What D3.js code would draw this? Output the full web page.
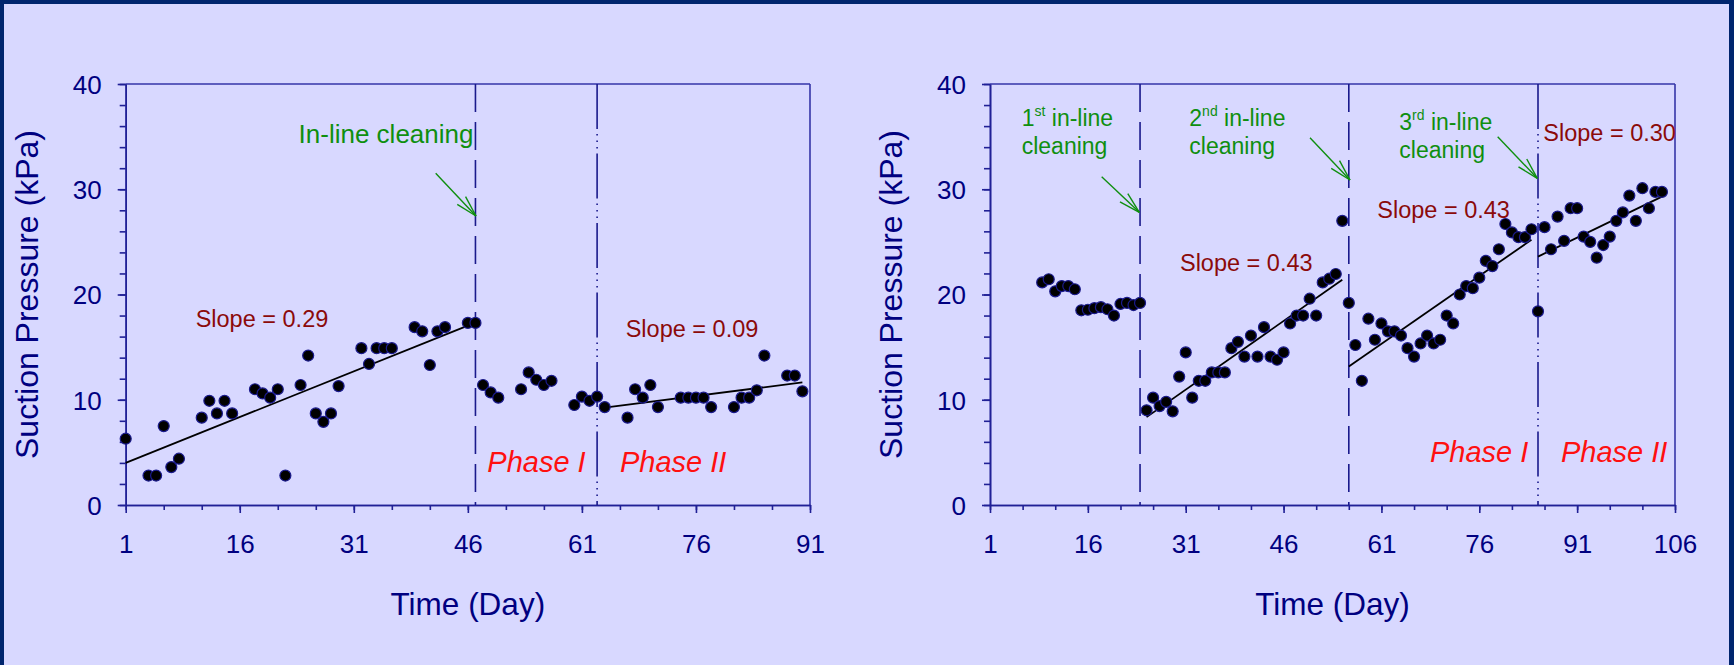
<!DOCTYPE html>
<html><head><meta charset="utf-8">
<script src="https://cdn.jsdelivr.net/npm/d3@7"></script>
<style>html,body{margin:0;padding:0;background:#D8D8FF;} svg{display:block}</style>
</head><body>
<svg id="c" width="1734" height="665"></svg>
<script>
// ---------- DATA ----------
const leftDays   = [1,4,5,6,7,8,11,12,13,14,15,18,19,20,21,22,24,25,26,27,28,29,32,33,34,35,36,39,40,41,42,43,46,47,48,49,50,53,54,55,56,57,60,61,62,63,64,67,68,69,70,71,74,75,76,77,78,81,82,83,84,85,88,89,90];
const leftValues = [6.3,2.8,2.8,7.5,3.6,4.4,8.3,9.9,8.7,9.9,8.7,11.0,10.6,10.2,11.0,2.8,11.4,14.2,8.7,7.9,8.7,11.3,14.9,13.4,14.9,14.9,14.9,16.9,16.5,13.3,16.5,16.9,17.3,17.3,11.4,10.7,10.2,11.0,12.6,11.9,11.4,11.8,9.5,10.3,9.9,10.3,9.3,8.3,11.0,10.2,11.4,9.3,10.2,10.2,10.2,10.2,9.3,9.3,10.2,10.2,10.9,14.2,12.3,12.3,10.8];

const rightDays   = d3.range(9, 105);
const rightValues = [21.15,21.45,20.3,20.8,20.8,20.5,18.5,18.55,18.7,18.8,18.6,18.0,19.1,19.2,19.0,19.2,
  9.0,10.2,9.4,9.8,8.9,12.2,14.5,10.2,11.8,11.8,12.6,12.6,12.6,14.9,15.5,14.1,16.1,14.1,16.9,14.1,13.8,14.5,17.25,18.0,18.0,19.6,18.0,21.15,21.5,21.95,27.0,
  19.2,15.2,11.8,17.7,15.7,17.25,16.5,16.5,16.1,14.9,14.1,15.35,16.1,15.35,15.7,18.0,17.25,20.0,20.8,20.6,21.6,23.2,22.7,24.3,26.7,25.9,25.45,25.45,26.2,
  18.4,26.4,24.3,27.4,25.1,28.2,28.2,25.5,25.0,23.5,24.7,25.5,27.0,27.8,29.4,27.0,30.1,28.2,29.75,29.75];

// regression segments: [startDay, startValue, endDay, endValue]
const leftFits  = [[1, 4.0, 46, 17.05], [64.5, 9.3, 90, 11.65]];
const rightFits = [[25, 8.35, 55, 21.4], [56, 13.15, 84, 25.2], [85, 23.6, 104, 29.3]];

// event lines (day)
const leftCleaning  = [47];
const leftPhase     = [63];
const rightCleaning = [24, 56];
const rightPhase    = [85];

const xTicksLeft  = [1,16,31,46,61,76,91];
const xTicksRight = [1,16,31,46,61,76,91,106];
const yTicks      = [0,10,20,30,40];

const yTitle = "Suction Pressure (kPa)";
const xTitle = "Time (Day)";

// ---------- STYLE ----------
const FONT = "'Liberation Sans', Arial, Helvetica, sans-serif";
const NAVY = "#000080";
const AXIS = "#202096";
const GREEN = "#0f8f0f";
const DARKRED = "#8b0a0a";
const RED = "#ff1010";

const svg = d3.select("#c");
svg.append("rect").attr("width",1734).attr("height",665).attr("fill","#D8D8FF");
svg.append("rect").attr("x",0).attr("y",0).attr("width",1734).attr("height",4).attr("fill","#00256E");
svg.append("rect").attr("x",0).attr("y",0).attr("width",4).attr("height",665).attr("fill","#00256E");
svg.append("rect").attr("x",1729).attr("y",0).attr("width",5).attr("height",665).attr("fill","#00256E");

function panel(cfg){
  const TOP = 84, BOT = 505;
  const x = d3.scaleLinear().domain(cfg.domain).range([cfg.left, cfg.right]);
  const y = d3.scaleLinear().domain([0,40]).range([BOT, TOP]);
  const g = svg.append("g");

  // frame top & right
  g.append("line").attr("x1",cfg.left).attr("x2",cfg.right).attr("y1",TOP).attr("y2",TOP)
    .attr("stroke","#3535a8").attr("stroke-width",1.6);
  g.append("line").attr("x1",cfg.right).attr("x2",cfg.right).attr("y1",TOP).attr("y2",BOT)
    .attr("stroke","#3535a8").attr("stroke-width",1.6);

  // minor ticks
  const minorX = d3.range(cfg.domain[0], cfg.domain[1]+1, 5);
  g.append("g").attr("transform",`translate(0,${BOT})`)
    .call(d3.axisBottom(x).tickValues(minorX).tickSize(5).tickSizeOuter(0).tickFormat(""));
  g.append("g").attr("transform",`translate(${cfg.left},0)`)
    .call(d3.axisLeft(y).tickValues(d3.range(0,41,2)).tickSize(6).tickSizeOuter(0).tickFormat(""));

  const ax = g.append("g").attr("transform",`translate(0,${BOT})`)
    .call(d3.axisBottom(x).tickValues(cfg.xTicks).tickSize(8).tickSizeOuter(0).tickFormat(d3.format("d")));
  ax.selectAll("text").attr("y",48).attr("dy",null);
  const ay = g.append("g").attr("transform",`translate(${cfg.left},0)`)
    .call(d3.axisLeft(y).tickValues(yTicks).tickSize(8).tickSizeOuter(0).tickPadding(16));
  ay.selectAll("text").attr("dy","0.36em");

  g.selectAll(".domain, .tick line").attr("stroke",AXIS).attr("stroke-width",1.6);
  g.selectAll(".tick text").attr("fill",NAVY).attr("font-size",26).attr("font-family",FONT);
  [ax, ay].forEach(a => a.attr("font-family",FONT).attr("font-size",26));

  // titles
  g.append("text").attr("transform",`translate(${cfg.left-88},${(TOP+BOT)/2}) rotate(-90)`)
    .attr("text-anchor","middle").attr("font-family",FONT).attr("font-size",32).attr("fill",NAVY).text(yTitle);
  g.append("text").attr("x",(cfg.left+cfg.right)/2).attr("y",615)
    .attr("text-anchor","middle").attr("font-family",FONT).attr("font-size",31.5).attr("fill",NAVY).text(xTitle);

  // event lines
  g.selectAll(null).data(cfg.cleaning).join("line")
    .attr("x1",d=>x(d)).attr("x2",d=>x(d)).attr("y1",TOP).attr("y2",BOT)
    .attr("stroke","#1a1a8c").attr("stroke-width",1.6).attr("stroke-dasharray","28,10");
  g.selectAll(null).data(cfg.phase).join("line")
    .attr("x1",d=>x(d)).attr("x2",d=>x(d)).attr("y1",TOP).attr("y2",BOT)
    .attr("stroke","#1a1a8c").attr("stroke-width",1.6).attr("stroke-dasharray","45,5,1.5,5,1.5,5,1.5,5");

  // fits
  g.selectAll(null).data(cfg.fits).join("line")
    .attr("x1",d=>x(d[0])).attr("y1",d=>y(d[1])).attr("x2",d=>x(d[2])).attr("y2",d=>y(d[3]))
    .attr("stroke","#000").attr("stroke-width",1.8);

  // points
  g.selectAll(null).data(cfg.days.map((d,i)=>[d,cfg.values[i]])).join("circle")
    .attr("cx",d=>x(d[0])).attr("cy",d=>y(d[1])).attr("r",5.5)
    .attr("fill","#000").attr("stroke","#1a1a8c").attr("stroke-width",1.2);

  // arrows
  cfg.arrows.forEach(a=>{
    const tx = x(a.tip[0]), ty = y(a.tip[1]), sx = x(a.tail[0]), sy = y(a.tail[1]);
    const ang = Math.atan2(sy-ty, sx-tx);
    const L = 22, da = 15*Math.PI/180;
    g.append("line").attr("x1",sx).attr("y1",sy).attr("x2",tx).attr("y2",ty).attr("stroke",GREEN).attr("stroke-width",1.4);
    [-da, da].forEach(o=>{
      g.append("line").attr("x1",tx).attr("y1",ty)
        .attr("x2",tx+L*Math.cos(ang+o)).attr("y2",ty+L*Math.sin(ang+o))
        .attr("stroke",GREEN).attr("stroke-width",1.4);
    });
  });

  // texts
  cfg.texts.forEach(t=>{
    const el = g.append("text").attr("x",x(t.d)).attr("y",y(t.v))
      .attr("font-family",FONT).attr("font-size",t.size).attr("fill",t.color)
      .attr("text-anchor",t.anchor||"start");
    if (t.italic) el.attr("font-style","italic");
    if (t.parts){
      t.parts.forEach(p=>{
        const ts = el.append("tspan").text(p.s);
        if (p.sup) ts.attr("font-size",14).attr("dy",-10);
        else if (p.after) ts.attr("dy",10);
      });
    } else el.text(t.s);
  });
}

panel({
  left:125.7, right:810, domain:[1,91], xTicks:xTicksLeft,
  days:leftDays, values:leftValues, fits:leftFits,
  cleaning:leftCleaning, phase:leftPhase,
  arrows:[{tail:[41.77,31.52], tip:[47.07,27.46]}],
  texts:[
    {s:"In-line cleaning", d:46.74, v:34.37, size:26, color:GREEN, anchor:"end"},
    {s:"Slope = 0.29", d:10.2, v:16.94, size:23.5, color:DARKRED},
    {s:"Slope = 0.09", d:66.76, v:15.99, size:23.5, color:DARKRED},
    {s:"Phase I", d:48.56, v:3.16, size:29, color:RED, italic:true},
    {s:"Phase II", d:66.01, v:3.16, size:29, color:RED, italic:true}
  ]
});

panel({
  left:990, right:1675, domain:[1,106], xTicks:xTicksRight,
  days:rightDays, values:rightValues, fits:rightFits,
  cleaning:rightCleaning, phase:rightPhase,
  arrows:[{tail:[18.12,31.19], tip:[23.89,27.81]},
          {tail:[50.05,34.90], tip:[56.18,30.88]},
          {tail:[78.82,34.99], tip:[84.89,31.04]}],
  texts:[
    {parts:[{s:"1"},{s:"st",sup:true},{s:" in-line",after:true}], d:5.86, v:36.04, size:23, color:GREEN},
    {s:"cleaning", d:5.86, v:33.35, size:23, color:GREEN},
    {parts:[{s:"2"},{s:"nd",sup:true},{s:" in-line",after:true}], d:31.55, v:36.04, size:23, color:GREEN},
    {s:"cleaning", d:31.55, v:33.35, size:23, color:GREEN},
    {parts:[{s:"3"},{s:"rd",sup:true},{s:" in-line",after:true}], d:63.74, v:35.63, size:23, color:GREEN},
    {s:"cleaning", d:63.74, v:32.94, size:23, color:GREEN},
    {s:"Slope = 0.43", d:30.12, v:22.26, size:23.5, color:DARKRED},
    {s:"Slope = 0.43", d:60.37, v:27.24, size:23.5, color:DARKRED},
    {s:"Slope = 0.30", d:85.81, v:34.58, size:23.5, color:DARKRED},
    {s:"Phase I", d:68.45, v:4.11, size:29, color:RED, italic:true},
    {s:"Phase II", d:88.53, v:4.11, size:29, color:RED, italic:true}
  ]
});
</script>
</body></html>
